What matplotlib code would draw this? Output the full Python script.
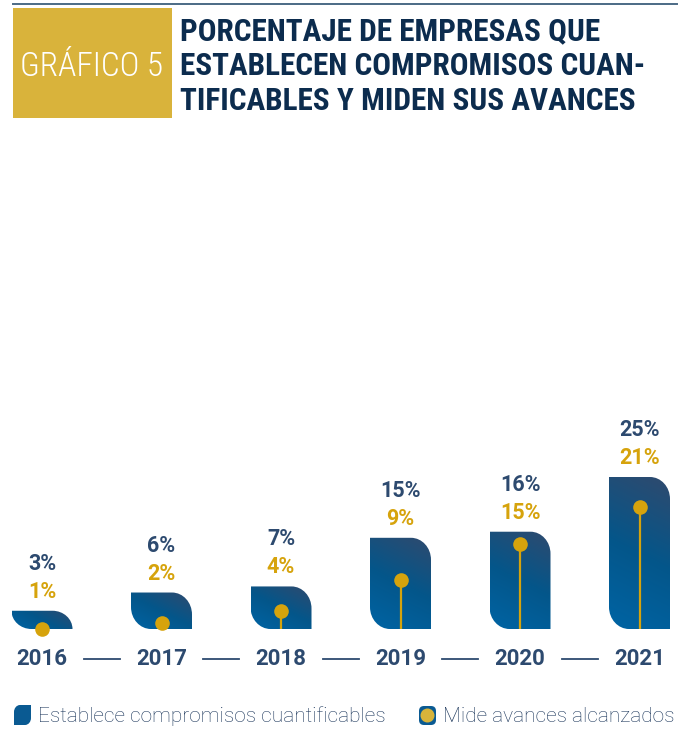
import numpy as np
import matplotlib
matplotlib.use('Agg')
import matplotlib.pyplot as plt
from matplotlib.path import Path
from matplotlib.patches import PathPatch, Rectangle, FancyBboxPatch, Circle
from matplotlib.colors import LinearSegmentedColormap
from matplotlib.transforms import Affine2D, offset_copy

# data (% of companies)
years = ['2016', '2017', '2018', '2019', '2020', '2021']
establece = [3, 6, 7, 15, 16, 25]   # sets quantifiable commitments (bars)
mide = [1, 2, 4, 9, 15, 21]         # measures progress (gold dots)

BLUE_TXT = '#2d4a6f'
GOLD = '#d6a30c'
NAVY = '#0c2c4e'
cmap = LinearSegmentedColormap.from_list('bar', ['#0064a4', '#04568a', '#2f4a6e'])

W, H = 687, 730
fig = plt.figure(figsize=(W / 100, H / 100), dpi=100)
plt.rcParams['font.family'] = ['Roboto', 'DejaVu Sans']
COND = ['Roboto Condensed', 'Roboto', 'DejaVu Sans']

# pixel layout of the plot area
X0, DX = 42, 119.5        # centre of first bar, spacing (px)
BASE, PPU = 101, 6.08      # baseline from bottom (px), px per %
BW_PX = 61
ax = fig.add_axes([0, 0, 1, 1])
ax.set_xlim(-X0 / DX, (W - X0) / DX)
ax.set_ylim(-BASE / PPU, (H - BASE) / PPU)
ax.axis('off')


def leaf(x0, y0, w, h, rx, ry):
    # rectangle with rounded top-right and bottom-left corners
    k = 0.5523
    x1, y1 = x0 + w, y0 + h
    verts = [(x0 + rx, y0), (x1, y0), (x1, y1 - ry),
             (x1, y1 - ry + k * ry), (x1 - rx + k * rx, y1), (x1 - rx, y1),
             (x0, y1), (x0, y0 + ry),
             (x0, y0 + ry - k * ry), (x0 + rx - k * rx, y0), (x0 + rx, y0),
             (x0 + rx, y0)]
    codes = [Path.MOVETO, Path.LINETO, Path.LINETO,
             Path.CURVE4, Path.CURVE4, Path.CURVE4,
             Path.LINETO, Path.LINETO,
             Path.CURVE4, Path.CURVE4, Path.CURVE4, Path.CLOSEPOLY]
    return Path(verts, codes)


bw = BW_PX / DX
for i, v in enumerate(establece):
    h_px = v * PPU
    rx = 20 / DX
    ry = min(22, h_px) / PPU
    p = leaf(i - bw / 2, 0, bw, v, rx, ry)
    patch = PathPatch(p, facecolor='none', edgecolor='none')
    ax.add_patch(patch)
    ny = max(2, int(h_px))
    u = np.linspace(0, BW_PX, 64)
    yy = np.linspace(0, h_px, ny)
    U, Y = np.meshgrid(u, yy)
    t = (0.5 * U + Y) / (0.5 * BW_PX + h_px)
    im = ax.imshow(t, cmap=cmap, vmin=0, vmax=1, origin='lower', aspect='auto',
                   extent=[i - bw / 2, i + bw / 2, 0, v], interpolation='bilinear',
                   zorder=2)
    im.set_clip_path(patch)

# gold stems and dots (dot top sits on the value)
dot_tr = offset_copy(ax.transData, fig=fig, x=0, y=-6, units='dots')
for i, m in enumerate(mide):
    ax.plot([i, i], [0, m], color=GOLD, lw=1.6, transform=dot_tr, zorder=3,
            solid_capstyle='butt', clip_on=False)
# stems must not pass below the baseline
ax.add_patch(Rectangle((-1, -3), 8, 3, facecolor='white', edgecolor='none', zorder=3.5))
for i, m in enumerate(mide):
    ax.plot([i], [m], 'o', color=GOLD, ms=10.5, mec='none', transform=dot_tr,
            zorder=4, clip_on=False)

# value labels
for i, (v, m) in enumerate(zip(establece, mide)):
    ax.annotate(f'{m}%', (i, v), xytext=(0, 19), textcoords='offset pixels',
                ha='center', va='center', color=GOLD, fontsize=15.5, fontweight='bold')
    ax.annotate(f'{v}%', (i, v), xytext=(0, 47), textcoords='offset pixels',
                ha='center', va='center', color=BLUE_TXT, fontsize=15.5, fontweight='bold')

# year labels and the connecting segments
for i, y in enumerate(years):
    ax.annotate(y, (i, 0), xytext=(0, -30), textcoords='offset pixels',
                ha='center', va='center', color=BLUE_TXT, fontsize=16, fontweight='bold')
yr_tr = offset_copy(ax.transData, fig=fig, x=0, y=-30, units='dots')
for i in range(len(years) - 1):
    ax.plot([i + 0.35, i + 1 - 0.35], [0, 0], color=BLUE_TXT, lw=1.3,
            transform=yr_tr, clip_on=False)

# header, in pixels from the top-left corner
px = Affine2D().scale(1 / W, -1 / H).translate(0, 1) + fig.transFigure
fig.add_artist(plt.Line2D([13, 677], [4, 4], color='#4b6a85', lw=1.4, transform=px))
fig.add_artist(Rectangle((13, 8), 159, 110, facecolor='#d9b33b', edgecolor='none',
                         transform=px))
fig.text(92, 67, 'GRÁFICO 5', transform=px, ha='center', va='center', color='white',
         fontsize=24, fontweight='light', family=COND)
title_lines = ['PORCENTAJE DE EMPRESAS QUE',
               'ESTABLECEN COMPROMISOS CUAN-',
               'TIFICABLES Y MIDEN SUS AVANCES']
for k, line in enumerate(title_lines):
    fig.text(180, 31 + 35 * k, line, transform=px, ha='left', va='center', color=NAVY,
             fontsize=22.5, fontweight='bold', family=COND)

# legend
leg1 = PathPatch(leaf(14, 705, 17, 20, 6, 7), facecolor='#0a5a92', edgecolor='none',
                 transform=px)
fig.add_artist(leg1)
fig.text(38, 716, 'Establece compromisos cuantificables', transform=px, ha='left',
         va='center', color='#1a355a', fontsize=15, fontweight='light')
fig.add_artist(FancyBboxPatch((419, 706), 17, 19, boxstyle='round,pad=0,rounding_size=5',
                              facecolor='#0a5a92', edgecolor='none', transform=px))
fig.add_artist(Circle((427.5, 715.5), 7, facecolor='#d8b43a', edgecolor='none', transform=px))
fig.text(443, 716, 'Mide avances alcanzados', transform=px, ha='left',
         va='center', color='#1a355a', fontsize=15, fontweight='light')

fig.savefig('out.png', dpi=100)
